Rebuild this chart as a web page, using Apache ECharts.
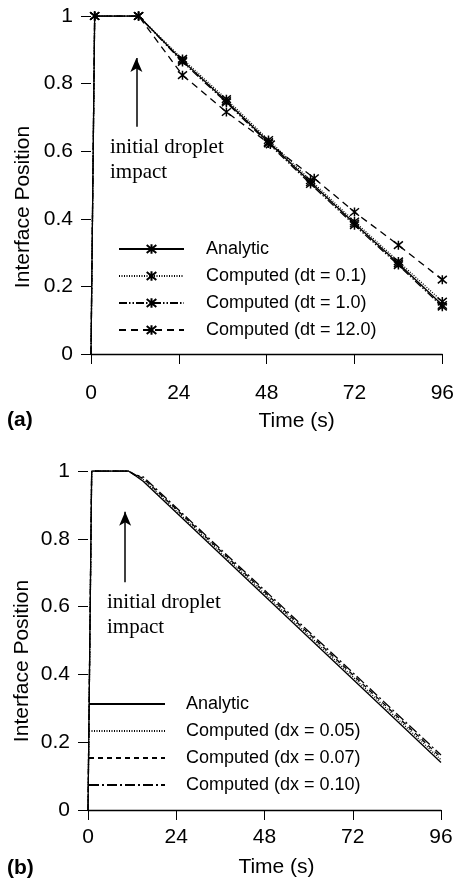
<!DOCTYPE html>
<html>
<head>
<meta charset="utf-8">
<script src="https://cdn.jsdelivr.net/npm/echarts@6/dist/echarts.min.js"></script>
<style>
html,body{margin:0;padding:0;background:#fff;}
#chart{width:457px;height:887px;}
</style>
</head>
<body>
<div id="chart"></div>
<script>
// ---- data (panel a) ----
var timeA      = [0, 1, 13, 25, 37, 48.5, 60, 72, 84, 96];
var analyticA  = [0, 1, 1, 0.868, 0.748, 0.627, 0.508, 0.386, 0.268, 0.145];
var dt01A      = [0, 1, 1, 0.873, 0.754, 0.633, 0.514, 0.392, 0.274, 0.155];
var dt10A      = [0, 1, 1, 0.864, 0.744, 0.623, 0.503, 0.381, 0.263, 0.14];
var timeA12    = [0, 1, 13, 25, 37, 49, 61, 72, 84, 96];
var dt12A      = [0, 1, 1, 0.825, 0.716, 0.62, 0.52, 0.42, 0.322, 0.22];
var namesA     = ['Analytic', 'Computed (dt = 0.1)', 'Computed (dt = 1.0)', 'Computed (dt = 12.0)'];
// ---- data (panel b) ----
var timeB      = [0, 1, 11, 13, 15, 96];
var analyticB  = [0, 1, 1, 0.985, 0.97, 0.14];
var dx005B     = [0, 1, 1, 0.986, 0.975, 0.148];
var dx007B     = [0, 1, 1, 0.987, 0.979, 0.155];
var dx010B     = [0, 1, 1, 0.988, 0.983, 0.162];
var namesB     = ['Analytic', 'Computed (dx = 0.05)', 'Computed (dx = 0.07)', 'Computed (dx = 0.10)'];
var xTicks     = [0, 24, 48, 72, 96];
var yTicks     = [0, 0.2, 0.4, 0.6, 0.8, 1];
var arrowA     = {t: 12.4, from: 0.672, to: 0.876};
var arrowB     = {t: 10.1, from: 0.672, to: 0.88};

function pairs(t, v, hideFirst) {
  return t.map(function (x, i) {
    var d = {value: [x, v[i]]};
    if (hideFirst && i === 0) d.symbol = 'none';
    return d;
  });
}

var FONT = '"Liberation Sans", Arial, sans-serif';
var STAR = 'path://M0,0L10,10M10,0L0,10M5,-1L5,11';

function xAxis(gi, gap, pad, margin) {
  return {
    type: 'value', gridIndex: gi, min: xTicks[0], max: xTicks[xTicks.length - 1], interval: 24,
    name: 'Time (s)', nameLocation: 'middle', nameGap: gap,
    nameTextStyle: {fontFamily: FONT, fontSize: 21, color: '#000', padding: pad},
    axisLine: {show: true, lineStyle: {color: '#000', width: 1.3}},
    axisTick: {show: true, length: 10, lineStyle: {color: '#000', width: 1}},
    axisLabel: {fontFamily: FONT, fontSize: 21, color: '#000', margin: margin},
    splitLine: {show: false}
  };
}
function yAxis(gi) {
  return {
    type: 'value', gridIndex: gi, min: yTicks[0], max: yTicks[yTicks.length - 1], interval: 0.2,
    axisLine: {show: false},
    axisTick: {show: true, length: 10, lineStyle: {color: '#000', width: 1}},
    axisLabel: {fontFamily: FONT, fontSize: 21, color: '#000', margin: 18},
    splitLine: {show: false}
  };
}
function lineSeries(name, t, v, gi, type, withSym) {
  return {
    type: 'line', name: name, xAxisIndex: gi, yAxisIndex: gi,
    data: pairs(t, v, true),
    symbol: withSym ? STAR : 'none', symbolSize: 9, showAllSymbol: true,
    itemStyle: {color: '#000', borderColor: '#000', borderWidth: 1.5},
    lineStyle: {color: '#000', width: 1.3, type: type},
    animation: false, z: 3
  };
}
function arrow(a) {
  return {
    silent: true, symbol: ['none', 'arrow'], symbolSize: [9, 14],
    label: {show: false},
    lineStyle: {color: '#000', width: 1.5, type: 'solid'},
    data: [[{coord: [a.t, a.from]}, {coord: [a.t, a.to]}]]
  };
}

var sA = [
  lineSeries(namesA[0], timeA, analyticA, 0, 'solid', true),
  lineSeries(namesA[1], timeA, dt01A, 0, [1, 1.5], true),
  lineSeries(namesA[2], timeA, dt10A, 0, [8, 2, 1.5, 2, 1.5, 2], true),
  lineSeries(namesA[3], timeA12, dt12A, 0, [7, 5], true)
];
sA[0].markLine = arrow(arrowA);
var sB = [
  lineSeries(namesB[0], timeB, analyticB, 1, 'solid', false),
  lineSeries(namesB[1], timeB, dx005B, 1, [1, 1.5], false),
  lineSeries(namesB[2], timeB, dx007B, 1, [5, 4], false),
  lineSeries(namesB[3], timeB, dx010B, 1, [10, 3, 2, 3], false)
];
sB[0].markLine = arrow(arrowB);

function legend(names, left, top, w, pad, hideSym) {
  var l = {
    data: names, orient: 'vertical', left: left, top: top,
    itemWidth: w, itemHeight: 12, itemGap: 7, selectedMode: false,
    textStyle: {fontFamily: FONT, fontSize: 18, color: '#000', lineHeight: 20, padding: [0, 0, 0, pad]},
    inactiveColor: '#000'
  };
  if (hideSym) l.itemStyle = {opacity: 0};
  return l;
}

var chart = echarts.init(document.getElementById('chart'), null, {renderer: 'canvas'});
chart.setOption({
  backgroundColor: '#fff',
  animation: false,
  grid: [
    {left: 91, right: 11, top: 16, bottom: 533},
    {left: 88, right: 16, top: 471, bottom: 77}
  ],
  xAxis: [xAxis(0, 57, [0, 0, 0, 60], 29), xAxis(1, 47, [0, 0, 0, 24], 17)],
  yAxis: [yAxis(0), yAxis(1)],
  legend: [legend(namesA, 113, 234, 65, 17, false), legend(namesB, 83, 689, 76, 16, true)],
  series: sA.concat(sB),
  graphic: [
    {type: 'text', x: 23, y: 207, rotation: Math.PI / 2, style: {text: 'Interface Position', font: '21px "Liberation Sans", Arial, sans-serif', fill: '#000', align: 'center', verticalAlign: 'middle'}},
    {type: 'text', x: 22, y: 661, rotation: Math.PI / 2, style: {text: 'Interface Position', font: '21px "Liberation Sans", Arial, sans-serif', fill: '#000', align: 'center', verticalAlign: 'middle'}},
    {type: 'text', left: 110, top: 135, style: {text: 'initial droplet\nimpact', font: '21px "Liberation Serif", "Times New Roman", serif', lineHeight: 25, fill: '#000'}},
    {type: 'text', left: 107, top: 590, style: {text: 'initial droplet\nimpact', font: '21px "Liberation Serif", "Times New Roman", serif', lineHeight: 25, fill: '#000'}},
    {type: 'text', left: 7, top: 410, style: {text: '(a)', font: 'bold 21px "Liberation Sans", Arial, sans-serif', fill: '#000'}},
    {type: 'text', left: 7, top: 858, style: {text: '(b)', font: 'bold 21px "Liberation Sans", Arial, sans-serif', fill: '#000'}}
  ]
});
</script>
</body>
</html>
